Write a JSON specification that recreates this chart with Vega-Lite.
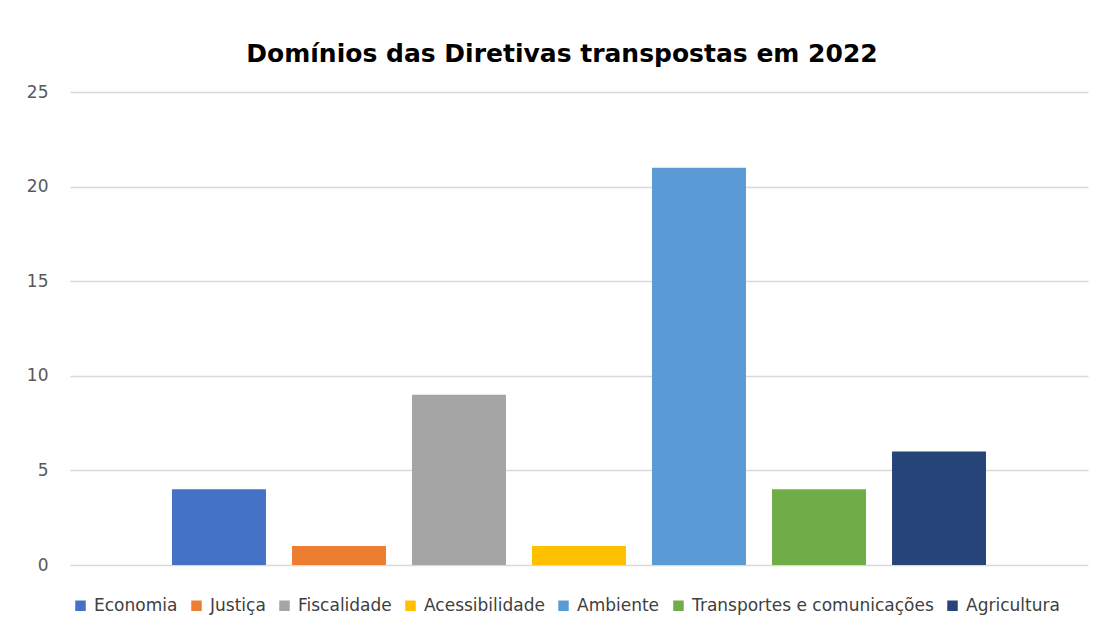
{
  "$schema": "https://vega.github.io/schema/vega-lite/v6.json",
  "width": 1018,
  "height": 473,
  "autosize": {"type": "none"},
  "padding": {"left": 70, "top": 92, "right": 12, "bottom": 61},
  "background": "white",
  "title": {
    "text": "Domínios das Diretivas transpostas em 2022",
    "font": "DejaVu Sans",
    "fontSize": 25,
    "fontWeight": "bold",
    "color": "#000000",
    "anchor": "middle",
    "offset": 16,
    "dx": -17
  },
  "data": {
    "values": [
      {"dominio": "Economia", "n": 4},
      {"dominio": "Justiça", "n": 1},
      {"dominio": "Fiscalidade", "n": 9},
      {"dominio": "Acessibilidade", "n": 1},
      {"dominio": "Ambiente", "n": 21},
      {"dominio": "Transportes e comunicações", "n": 4},
      {"dominio": "Agricultura", "n": 6}
    ]
  },
  "mark": {"type": "bar"},
  "encoding": {
    "x": {
      "field": "dominio",
      "type": "nominal",
      "sort": null,
      "axis": null,
      "scale": {"paddingInner": 0.217, "paddingOuter": 0.85}
    },
    "y": {
      "field": "n",
      "type": "quantitative",
      "scale": {"domain": [0, 25]},
      "axis": {
        "title": null,
        "values": [0, 5, 10, 15, 20, 25],
        "domain": false,
        "ticks": false,
        "grid": true,
        "gridColor": "#d9d9d9",
        "gridWidth": 1.5,
        "labelFont": "DejaVu Sans",
        "labelFontSize": 17,
        "labelColor": "#595959",
        "labelPadding": 22
      }
    },
    "color": {
      "field": "dominio",
      "type": "nominal",
      "sort": null,
      "scale": {
        "domain": ["Economia", "Justiça", "Fiscalidade", "Acessibilidade", "Ambiente", "Transportes e comunicações", "Agricultura"],
        "range": ["#4472C4", "#ED7D31", "#A5A5A5", "#FFC000", "#5B9BD5", "#70AD47", "#264478"]
      },
      "legend": {
        "title": null,
        "orient": "none",
        "direction": "horizontal",
        "columns": 7,
        "legendX": 2,
        "legendY": 505,
        "symbolType": "square",
        "symbolSize": 110,
        "symbolStrokeWidth": 0,
        "labelFont": "DejaVu Sans",
        "labelFontSize": 17,
        "labelColor": "#404040",
        "labelOffset": 5,
        "columnPadding": 10,
        "labelLimit": 400
      }
    }
  },
  "config": {
    "view": {"stroke": null}
  }
}
